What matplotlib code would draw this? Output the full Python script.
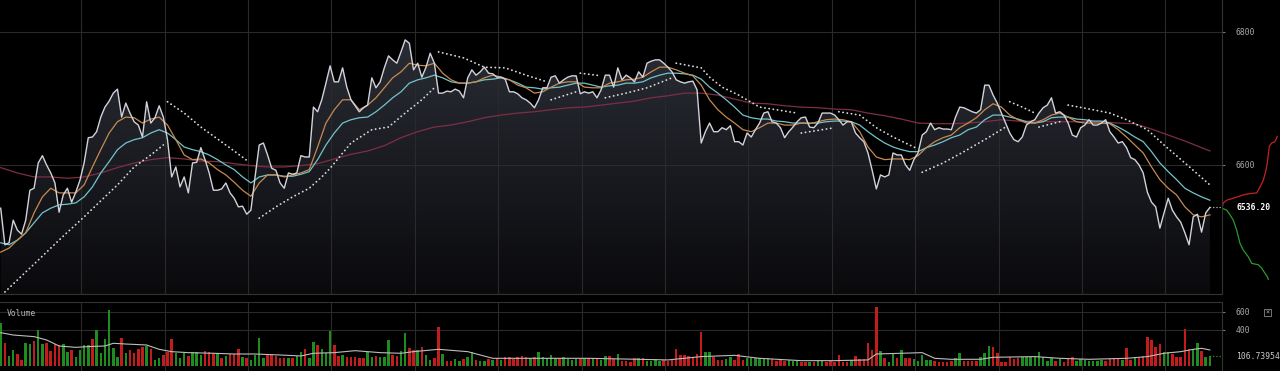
import numpy as np
import matplotlib
matplotlib.use("Agg")
import matplotlib.pyplot as plt
from matplotlib.colors import LinearSegmentedColormap
from matplotlib.patches import Rectangle

plt.rcParams['font.family'] = ['DejaVu Sans Mono', 'DejaVu Sans']

# close price per bar
price = [
    6535, 6480, 6483, 6517, 6502, 6496, 6517, 6562, 6565, 6603,
    6614, 6600, 6588, 6573, 6529, 6555, 6565, 6544, 6559, 6577,
    6603, 6641, 6642, 6650, 6672, 6687, 6696, 6708, 6714, 6672,
    6693, 6678, 6665, 6660, 6642, 6695, 6663, 6671, 6689, 6672,
    6638, 6582, 6597, 6567, 6582, 6558, 6603, 6604, 6626, 6608,
    6588, 6562, 6562, 6564, 6573, 6558, 6550, 6537, 6538, 6526,
    6532, 6582, 6630, 6633, 6615, 6595, 6592, 6573, 6565, 6588,
    6586, 6588, 6614, 6612, 6612, 6687, 6680, 6698, 6723, 6749,
    6725, 6725, 6746, 6717, 6698, 6689, 6680, 6686, 6690, 6731,
    6716, 6725, 6746, 6764, 6758, 6753, 6770, 6788, 6783, 6743,
    6753, 6732, 6747, 6768, 6753, 6708, 6708, 6711, 6710, 6714,
    6711, 6701, 6731, 6743, 6735, 6740, 6747, 6738, 6737, 6732,
    6732, 6729, 6710, 6710, 6707, 6701, 6698, 6693, 6686, 6698,
    6716, 6716, 6732, 6734, 6723, 6728, 6732, 6734, 6734, 6707,
    6710, 6708, 6710, 6701, 6713, 6735, 6735, 6717, 6746, 6728,
    6735, 6731, 6725, 6740, 6732, 6753, 6756, 6758, 6758, 6753,
    6747, 6740, 6728, 6725, 6723, 6725, 6726, 6713, 6633, 6650,
    6663, 6650, 6650, 6656, 6653, 6659, 6635, 6635, 6630, 6648,
    6642, 6653, 6663, 6678, 6680, 6665, 6663, 6656, 6641, 6650,
    6657, 6665, 6671, 6672, 6657, 6656, 6663, 6678, 6678, 6678,
    6675, 6668, 6660, 6665, 6665, 6648, 6641, 6635, 6618, 6592,
    6564, 6585, 6582, 6585, 6618, 6615, 6615, 6600, 6592, 6608,
    6618, 6645, 6650, 6663, 6653, 6656, 6654, 6654, 6653, 6672,
    6687, 6686, 6683, 6680, 6678, 6683, 6720, 6720, 6705, 6693,
    6678, 6663, 6648, 6638, 6635, 6642, 6660, 6665, 6668, 6678,
    6686, 6690, 6701, 6678, 6680, 6675, 6663, 6645, 6642, 6656,
    6660, 6668, 6660, 6660, 6663, 6668, 6650, 6642, 6633, 6635,
    6626, 6611, 6608, 6600, 6588, 6559, 6544, 6537, 6505, 6528,
    6550, 6532, 6522, 6514, 6498, 6480, 6522, 6526, 6499, 6528, 6536.2,
]

# moving averages, read every 2nd bar (fast / medium) and every 4th (slow)
ma_fast = [
    6469, 6475, 6487, 6498, 6528, 6552, 6565, 6558, 6558, 6558,
    6570, 6597, 6623, 6648, 6665, 6672, 6671, 6663, 6669, 6672,
    6660, 6638, 6615, 6608, 6609, 6603, 6593, 6585, 6574, 6562,
    6553, 6573, 6585, 6585, 6582, 6585, 6588, 6593, 6627, 6663,
    6683, 6698, 6698, 6683, 6690, 6701, 6716, 6731, 6740, 6753,
    6750, 6749, 6753, 6738, 6728, 6723, 6723, 6725, 6731, 6735,
    6732, 6728, 6720, 6716, 6708, 6710, 6717, 6723, 6725, 6725,
    6717, 6716, 6716, 6723, 6725, 6728, 6729, 6732, 6740, 6747,
    6747, 6743, 6738, 6734, 6720, 6698, 6683, 6672, 6663, 6653,
    6650, 6656, 6663, 6663, 6660, 6660, 6663, 6662, 6665, 6668,
    6669, 6668, 6665, 6650, 6627, 6612, 6608, 6609, 6609, 6608,
    6614, 6626, 6635, 6641, 6645, 6656, 6663, 6671, 6683, 6692,
    6687, 6675, 6668, 6663, 6663, 6668, 6675, 6678, 6672, 6665,
    6663, 6663, 6663, 6662, 6653, 6642, 6630, 6618, 6597, 6578,
    6565, 6555, 6537, 6525, 6522, 6525,
]
ma_mid = [
    6483, 6480, 6487, 6498, 6513, 6528, 6535, 6540, 6541, 6543,
    6552, 6567, 6588, 6605, 6623, 6633, 6638, 6641, 6648, 6653,
    6648, 6638, 6627, 6623, 6620, 6615, 6608, 6600, 6593, 6582,
    6573, 6582, 6585, 6585, 6583, 6583, 6586, 6590, 6608, 6630,
    6648, 6663, 6668, 6671, 6672, 6680, 6690, 6701, 6710, 6723,
    6728, 6731, 6735, 6731, 6725, 6723, 6723, 6725, 6728, 6729,
    6731, 6728, 6723, 6717, 6716, 6714, 6716, 6717, 6720, 6723,
    6723, 6720, 6717, 6719, 6720, 6723, 6723, 6725, 6731, 6735,
    6738, 6738, 6737, 6735, 6729, 6717, 6708, 6698, 6687, 6675,
    6671, 6669, 6669, 6666, 6665, 6663, 6663, 6663, 6663, 6665,
    6666, 6666, 6665, 6660, 6650, 6641, 6633, 6627, 6623, 6620,
    6620, 6626, 6630, 6635, 6641, 6645, 6653, 6657, 6668, 6675,
    6675, 6672, 6669, 6665, 6663, 6665, 6671, 6672, 6672, 6669,
    6668, 6666, 6666, 6663, 6657, 6650, 6642, 6635, 6620, 6603,
    6590, 6578, 6565, 6558, 6552, 6547,
]
ma_slow = [
    6596, 6588, 6582, 6582, 6580, 6582, 6588, 6596, 6603, 6608,
    6611, 6609, 6606, 6605, 6602, 6599, 6597, 6597, 6599, 6602,
    6609, 6616, 6621, 6629, 6641, 6650, 6657, 6660, 6665, 6671,
    6675, 6678, 6680, 6683, 6686, 6687, 6690, 6693, 6696, 6701,
    6704, 6708, 6708, 6705, 6699, 6693, 6692, 6689, 6687, 6686,
    6684, 6683, 6678, 6674, 6669, 6663, 6662, 6662, 6663, 6665,
    6668, 6666, 6666, 6665, 6665, 6665, 6665, 6663, 6662, 6654,
    6645, 6636, 6626, 6621,
]
ma_fast_idx = list(range(0, 291, 2))
ma_slow_idx = list(range(0, 289, 4)) + [290]

# parabolic SAR, segments split by nan
nan = float('nan')
sar_idx = [1, 5, 10, 15, 20, 25, 28, 32, 36, 39, nan,
           40, 44, 48, 52, 56, 59, nan,
           62, 66, 70, 74, 77, 79, 84, 89, 93, 97, 101, 104, nan,
           105, 111, 116, 121, 126, 131, nan,
           132, 135, 138, nan,
           139, 144, nan,
           145, 150, 155, 161, nan,
           162, 168, 170, 173, 177, 182, 186, 191, nan,
           192, 200, nan,
           201, 206, 210, 214, 217, 220, nan,
           221, 226, 231, 236, 241, nan,
           242, 245, 248, nan,
           249, 254, nan,
           256, 262, 266, 270, 275, 279, 284, 290]
sar_val = [6409, 6433, 6463, 6493, 6522, 6552, 6570, 6597, 6615, 6630, nan,
           6695, 6678, 6657, 6639, 6621, 6607, nan,
           6520, 6537, 6552, 6565, 6582, 6595, 6633, 6653, 6657, 6678, 6698, 6716, nan,
           6770, 6761, 6747, 6746, 6735, 6725, nan,
           6698, 6704, 6710, nan,
           6738, 6734, nan,
           6701, 6708, 6716, 6731, nan,
           6753, 6746, 6732, 6717, 6705, 6687, 6683, 6678, nan,
           6648, 6656, nan,
           6680, 6675, 6656, 6642, 6633, 6624, nan,
           6589, 6603, 6620, 6638, 6657, nan,
           6695, 6687, 6678, nan,
           6657, 6665, nan,
           6690, 6683, 6678, 6668, 6653, 6630, 6603, 6570]

# volume per bar, and up (G) / down (R) colour
volume = [
    481, 252, 111, 178, 130, 67, 259, 244, 281, 400,
    244, 259, 167, 244, 233, 244, 159, 178, 104, 178,
    233, 233, 296, 400, 148, 296, 622, 196, 96, 307,
    148, 178, 148, 185, 215, 222, 185, 67, 85, 122,
    159, 296, 141, 85, 141, 111, 159, 159, 122, 170,
    159, 148, 141, 85, 111, 133, 133, 185, 96, 85,
    67, 122, 307, 85, 122, 122, 111, 85, 85, 85,
    85, 111, 159, 185, 85, 270, 233, 185, 148, 392,
    233, 111, 122, 104, 104, 96, 85, 85, 159, 104,
    111, 104, 104, 289, 122, 111, 170, 363, 196, 178,
    178, 215, 122, 67, 85, 437, 133, 59, 59, 74,
    59, 74, 104, 159, 67, 59, 59, 74, 67, 85,
    67, 96, 96, 74, 96, 111, 104, 85, 96, 159,
    104, 85, 122, 85, 85, 104, 74, 67, 74, 85,
    85, 85, 85, 74, 67, 111, 111, 74, 133, 59,
    59, 48, 85, 85, 85, 59, 59, 74, 59, 67,
    59, 67, 185, 122, 122, 111, 85, 133, 381, 159,
    159, 104, 67, 67, 74, 104, 67, 133, 67, 85,
    85, 85, 85, 85, 85, 74, 59, 74, 59, 67,
    59, 67, 48, 48, 48, 48, 59, 59, 48, 59,
    48, 122, 48, 48, 67, 111, 74, 74, 259, 178,
    659, 170, 85, 48, 133, 85, 178, 85, 85, 74,
    59, 122, 67, 67, 59, 48, 48, 48, 59, 85,
    148, 59, 59, 59, 59, 104, 148, 222, 207, 148,
    48, 48, 104, 74, 85, 104, 104, 104, 104, 159,
    104, 59, 85, 59, 74, 48, 85, 104, 59, 74,
    67, 59, 59, 59, 67, 59, 74, 85, 85, 67,
    196, 67, 104, 85, 111, 326, 289, 215, 244, 159,
    159, 133, 104, 104, 407, 185, 185, 259, 170, 104, 106.73954,
]
direction = ("GRGGRRGGRG" "GRRRRGGRGG" "GGRGGGGGGR" "GRRRRGRGGR" "RRGGGRGGGR"
             "RRGRGRRRGR" "GGGGRRRRRG" "RGGRGGRGGG" "RRGRRRRRGG" "RGGGRRGGRR"
             "GRGGRRGRRG" "GRGGRGGRGR" "GRRRRRRGRG" "GGGGRGGGGR" "GRGRGGRRGR"
             "RRRGRGGGGR" "RRRRRRRRRG" "GRRRGGRRRG" "GGGGGRRRRG" "GGRRGRGGRR"
             "RRRRGRRRRR" "RGRGGRGRRG" "GGGGRRRRRG" "GRRRRGGGRR" "RRRRRGGGGG"
             "GGGRGRRRGG" "GGGGGRRRRG" "RRGRRRRRRG" "GRRRRRGGRGG")

vol_ma_idx = [0, 3, 8, 11, 14, 18, 21, 25, 27, 30, 35, 38, 41, 45, 51, 56, 61, 67,
              72, 75, 80, 85, 88, 91, 96, 99, 105, 112, 118, 128, 141, 153, 160,
              168, 176, 182, 192, 200, 208, 210, 216, 221, 224, 228, 235, 238,
              248, 254, 261, 270, 275, 279, 283, 286, 288, 290]
vol_ma = [370, 344, 326, 289, 222, 207, 215, 222, 252, 244, 233, 185, 159, 148,
          141, 133, 133, 122, 111, 141, 148, 170, 159, 148, 141, 159, 185, 159,
          85, 85, 85, 74, 67, 104, 118, 85, 59, 59, 67, 133, 141, 148, 85, 74,
          74, 96, 104, 85, 74, 85, 104, 141, 159, 185, 196, 178]

# order book depth at the right edge
ask_qty = [0, 1.3, 4.7, 11.3, 21.3, 28, 34.7, 38, 41.3, 44, 45.3, 47.3, 49.7, 53, 55.3]
ask_price = [6535, 6543, 6547, 6550, 6555, 6557, 6558, 6567, 6577, 6592, 6603,
             6628, 6633, 6635, 6643]
bid_qty = [0, 4.7, 8, 11.3, 14.7, 18, 21.3, 26.3, 29.7, 36.3, 39.7, 43, 45.3, 46.3]
bid_price = [6535, 6532, 6525, 6517, 6502, 6482, 6472, 6462, 6452, 6450, 6445,
             6437, 6432, 6428]

W, H = 1280, 371
GRID = '#2a2a2a'
EDGE = '#333333'

fig = plt.figure(figsize=(W / 100, H / 100), dpi=100, facecolor='black')
pw = 1222 / W
ax = fig.add_axes([0, 77 / H, pw, 294 / H])
axv = fig.add_axes([0, 0, pw, 69 / H])
axd = fig.add_axes([pw, 77 / H, 58 / W, 294 / H])
ax.set_zorder(3)

x = np.arange(len(price))
xlim = (-0.17, 292.9)
ylim = (6406, 6848)
grid_x = np.arange(19.3, 292, 20)

# gradient area under the price
cmap = LinearSegmentedColormap.from_list('fill', ['#0a0a0d', '#2f323b'])
grad = np.linspace(0, 1, 256).reshape(-1, 1)
im = ax.imshow(grad, extent=[xlim[0], x[-1], ylim[0], ylim[1]], origin='lower',
               aspect='auto', cmap=cmap, zorder=1)
poly = ax.fill_between(x, price, ylim[0], facecolor='none', edgecolor='none')
im.set_clip_path(poly.get_paths()[0], transform=ax.transData)

ax.plot(ma_slow_idx, ma_slow, color='#7e2e44', lw=0.9, zorder=3)
ax.plot(ma_fast_idx, ma_mid, color='#73c3cb', lw=0.9, zorder=3)
ax.plot(ma_fast_idx, ma_fast, color='#c68a50', lw=0.9, zorder=3)
ax.plot(x, price, color='#d2d2da', lw=1.0, zorder=4)
ax.plot(sar_idx, sar_val, color='#dcdcdc', lw=1.3, linestyle=(0, (0.1, 2.25)),
        dash_capstyle='round', zorder=5)
ax.plot([x[-1], xlim[1]], [price[-1], price[-1]], color='#bbbbbb', lw=1.0,
        linestyle=(0, (0.1, 2.2)), dash_capstyle='round', zorder=5)

ax.set_xlim(xlim)
ax.set_ylim(ylim)
ax.set_facecolor('black')
ax.set_xticks(grid_x)
ax.yaxis.tick_right()
ax.set_yticks([6600, 6800])
ax.grid(True, color=GRID, lw=0.8)
ax.tick_params(axis='x', length=0, labelbottom=False)
ax.tick_params(axis='y', direction='out', length=2.5, width=0.8, color='#777777',
               labelcolor='#a8a8a8', labelsize=5.8, pad=7)
for side in ['top', 'left']:
    ax.spines[side].set_visible(False)
for side in ['right', 'bottom']:
    ax.spines[side].set_color(EDGE)
ax.text(1236 / 1222, price[-1], '%.2f' % price[-1], transform=ax.get_yaxis_transform(),
        color='white', fontsize=5.8, fontweight='bold', va='center', ha='left',
        clip_on=False)

# volume panel
bar_colors = ['#1f8c1f' if d == 'G' else '#c21c1c' for d in direction]
axv.bar(x, volume, width=0.6, color=bar_colors, zorder=2)
axv.plot(vol_ma_idx, vol_ma, color='#bdbdbd', lw=0.8, zorder=3)
axv.plot([x[-1], xlim[1]], [volume[-1], volume[-1]], color='#2a9a2a', lw=1.0,
         linestyle=(0, (0.1, 2.2)), dash_capstyle='round', zorder=3)
axv.set_xlim(xlim)
axv.set_ylim(-56, 711)
axv.set_facecolor('black')
axv.set_xticks(grid_x)
axv.yaxis.tick_right()
axv.set_yticks([400, 600])
axv.grid(True, color=GRID, lw=0.8)
axv.tick_params(axis='x', length=0, labelbottom=False)
axv.tick_params(axis='y', direction='out', length=2.5, width=0.8, color='#777777',
                labelcolor='#a8a8a8', labelsize=5.8, pad=7)
for side in ['bottom', 'left']:
    axv.spines[side].set_visible(False)
for side in ['right', 'top']:
    axv.spines[side].set_color(EDGE)
axv.text(1236 / 1222, volume[-1], '%.5f' % volume[-1], transform=axv.get_yaxis_transform(),
         color='#c8c8c8', fontsize=5.8, va='center', ha='left', clip_on=False)
fig.text(7 / W, 1 - 313 / H, 'Volume', color='#b8b8b8', fontsize=5.8, va='center')
fig.add_artist(Rectangle((1264 / W, 1 - 316 / H), 7 / W, 7 / H, transform=fig.transFigure,
                         fill=False, edgecolor='#888888', lw=0.6))
fig.text(1267.5 / W, 1 - 312.5 / H, '×', color='#aaaaaa', fontsize=5, ha='center', va='center')

# depth curves
axd.plot(ask_qty, ask_price, color='#c42222', lw=0.9)
axd.plot(bid_qty, bid_price, color='#2a9a2a', lw=0.9)
axd.set_xlim(0, 58)
axd.set_ylim(ylim)
axd.axis('off')

fig.savefig('out.png', dpi=100, facecolor='black')
